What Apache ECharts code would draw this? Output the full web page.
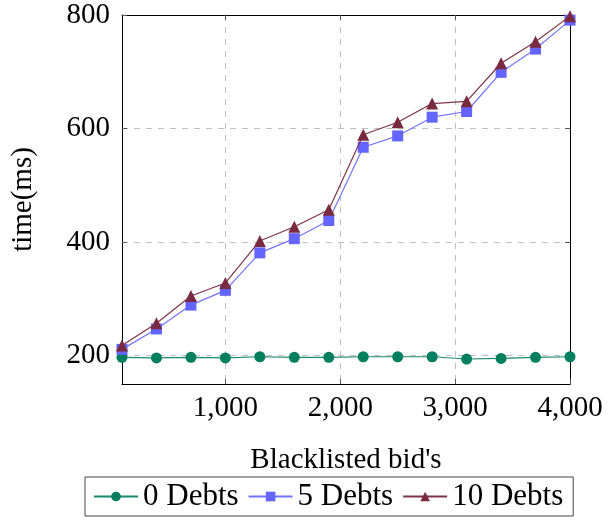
<!DOCTYPE html>
<html>
<head>
<meta charset="utf-8">
<script src="https://cdn.jsdelivr.net/npm/echarts@6/dist/echarts.min.js"></script>
<style>
  html, body { margin: 0; padding: 0; background: #fff; }
  #chart { width: 608px; height: 527px; }
</style>
</head>
<body>
<div id="chart"></div>
<script>
// Number of blacklisted bids (x values)
const bids = [100, 400, 700, 1000, 1300, 1600, 1900, 2200, 2500, 2800, 3100, 3400, 3700, 4000];
// Response time in ms for each debt count
const debts0  = [197, 196, 197, 196, 198, 197, 197, 198, 198, 198, 194, 195, 197, 198];
const debts5  = [211, 247, 289, 315, 381, 406, 438, 567, 587, 620, 630, 699, 740, 791];
const debts10 = [218, 257, 305, 328, 402, 427, 457, 589, 611, 644, 648, 715, 753, 798];
const xTicks = [1000, 2000, 3000, 4000];
const yTicks = [200, 400, 600, 800];

const FONT = '"Liberation Serif", "DejaVu Serif", serif';
const FS = 29;

const pairs = arr => bids.map((b, i) => [b, arr[i]]);

const chart = echarts.init(document.getElementById('chart'), null, { renderer: 'canvas' });

const tickStyle = { show: true, inside: true, length: 5, lineStyle: { color: '#555', width: 1 } };
const gridDash = { show: true, lineStyle: { color: '#c0c0c0', type: [6, 6], width: 1 } };
const frameLine = { show: true, onZero: false, lineStyle: { color: '#000', width: 1 } };

chart.setOption({
  backgroundColor: '#fff',
  animation: false,
  textStyle: { fontFamily: FONT },
  grid: { left: 122, right: 38, top: 15, bottom: 143 },
  legend: {
    left: 85, top: 477,
    orient: 'horizontal',
    padding: [4, 10, 4, 8],
    itemGap: 9,
    itemWidth: 44, itemHeight: 12,
    borderColor: '#444', borderWidth: 1,
    textStyle: { fontFamily: FONT, fontSize: 31, color: '#000' },
    data: ['0 Debts', '5 Debts', '10 Debts']
  },
  xAxis: [{
    type: 'value', min: 100, max: 4000,
    name: "Blacklisted bid's", nameLocation: 'middle', nameGap: 62,
    nameTextStyle: { fontFamily: FONT, fontSize: FS, color: '#000' },
    axisLine: frameLine,
    axisTick: Object.assign({ customValues: xTicks }, tickStyle),
    splitLine: gridDash,
    axisLabel: {
      customValues: xTicks, margin: 10,
      fontFamily: FONT, fontSize: FS, color: '#000',
      formatter: v => v.toLocaleString('en-US')
    }
  }, {
    type: 'value', min: 100, max: 4000, position: 'top',
    axisLine: frameLine,
    axisTick: Object.assign({ customValues: xTicks }, tickStyle),
    splitLine: { show: false },
    axisLabel: { show: false }
  }],
  yAxis: [{
    type: 'value', min: 150, max: 800,
    name: 'time(ms)', nameLocation: 'middle', nameGap: 84, nameRotate: 90,
    nameTextStyle: { fontFamily: FONT, fontSize: FS, color: '#000' },
    axisLine: frameLine,
    axisTick: Object.assign({ customValues: yTicks }, tickStyle),
    splitLine: gridDash,
    axisLabel: {
      customValues: yTicks, margin: 12,
      fontFamily: FONT, fontSize: FS, color: '#000'
    }
  }, {
    type: 'value', min: 150, max: 800, position: 'right',
    axisLine: frameLine,
    axisTick: Object.assign({ customValues: yTicks }, tickStyle),
    splitLine: { show: false },
    axisLabel: { show: false }
  }],
  series: [{
    name: '0 Debts', type: 'line', data: pairs(debts0),
    symbol: 'circle', symbolSize: 11,
    itemStyle: { color: '#007f5f' },
    lineStyle: { color: '#1a8a6e', width: 1.2 },
    z: 2
  }, {
    name: '5 Debts', type: 'line', data: pairs(debts5),
    symbol: 'rect', symbolSize: 11,
    itemStyle: { color: '#6464ff' },
    lineStyle: { color: '#7373ff', width: 1.2 },
    z: 3
  }, {
    name: '10 Debts', type: 'line', data: pairs(debts10),
    symbol: 'triangle', symbolSize: 12,
    itemStyle: { color: '#7a2a3e' },
    lineStyle: { color: '#7f3348', width: 1.2 },
    z: 4
  }]
});
</script>
</body>
</html>
